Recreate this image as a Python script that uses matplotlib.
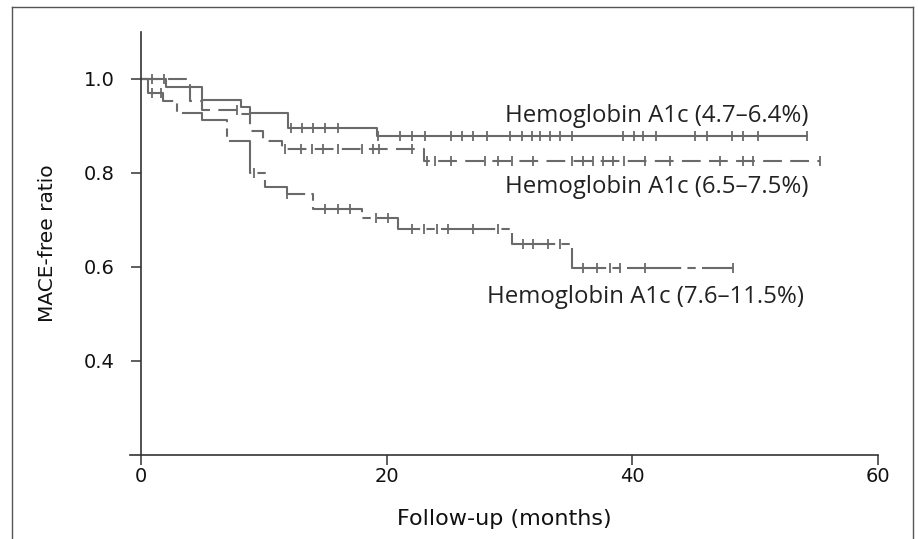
import numpy as np
import matplotlib
matplotlib.use("Agg")
import matplotlib.pyplot as plt
from matplotlib.lines import Line2D

# Kaplan-Meier style curves
# group A: Hemoglobin A1c 4.7-6.4 %
times_a = [0, 2.0, 5.0, 8.1, 8.9, 12.0, 19.2]
surv_a = [1.0, 0.983, 0.955, 0.940, 0.927, 0.895, 0.879]
end_a = 54.2
cens_a = [0.9, 1.9, 12.2, 13.1, 14.0, 15.0, 16.0, 19.3, 21.1, 22.1, 23.1, 25.2, 26.1,
          27.0, 28.2, 30.0, 31.0, 31.8, 32.5, 33.3, 34.1, 35.1, 39.2, 40.1, 40.9,
          41.9, 45.1, 46.1, 48.1, 49.0, 50.2, 54.2]

# group B: Hemoglobin A1c 6.5-7.5 %
times_b = [0, 4.0, 5.0, 8.1, 8.9, 9.9, 11.5, 23.0]
surv_b = [1.0, 0.953, 0.935, 0.925, 0.890, 0.868, 0.851, 0.826]
end_b = 55.3
cens_b = [7.8, 11.7, 13.0, 13.9, 14.8, 16.0, 18.0, 18.9, 19.4, 22.1, 23.3, 23.9, 25.2,
          28.0, 29.1, 30.2, 31.9, 35.1, 36.0, 36.8, 37.6, 38.4, 39.3, 41.0, 43.1,
          47.1, 49.0, 49.8, 55.3]

# group C: Hemoglobin A1c 7.6-11.5 %
times_c = [0, 0.6, 1.8, 2.9, 5.0, 7.0, 8.9, 10.1, 11.9, 14.0, 18.0, 20.9, 30.2, 35.1]
surv_c = [1.0, 0.970, 0.954, 0.927, 0.913, 0.868, 0.800, 0.770, 0.755, 0.723, 0.704,
          0.680, 0.650, 0.598]
end_c = 48.2
cens_c = [0.9, 1.6, 9.2, 11.9, 15.0, 16.0, 17.0, 19.1, 20.1, 22.1, 23.0, 24.1, 25.0,
          27.0, 29.1, 31.1, 31.9, 33.1, 34.1, 36.0, 37.1, 38.2, 39.0, 41.0, 48.2]

labels = ["Hemoglobin A1c (4.7\u20136.4%)",
          "Hemoglobin A1c (6.5\u20137.5%)",
          "Hemoglobin A1c (7.6\u201311.5%)"]

x_ticks = [0, 20, 40, 60]
y_ticks = [0.4, 0.6, 0.8, 1.0]

curve_col = "#6a6a6a"
axis_col = "#333333"


def surv_at(t, times, surv):
    # value of the step curve at time t
    i = np.searchsorted(times, t, side="right") - 1
    return surv[max(i, 0)]


def draw_curve(ax, times, surv, end, cens, ls):
    x = list(times) + [end]
    y = list(surv) + [surv[-1]]
    ax.step(x, y, where="post", color=curve_col, lw=1.5, linestyle=ls)
    cy = [surv_at(t, times, surv) for t in cens]
    ax.plot(cens, cy, linestyle="none", marker="|", ms=7.5, mew=1.3, color=curve_col)


fig = plt.figure(figsize=(9.18, 5.39), dpi=100)
ax = fig.add_axes([130 / 918, 84 / 539, 748 / 918, 423 / 539])

draw_curve(ax, times_a, surv_a, end_a, cens_a, "-")
draw_curve(ax, times_b, surv_b, end_b, cens_b, (0, (9, 4)))
draw_curve(ax, times_c, surv_c, end_c, cens_c, (0, (26, 3, 4, 3)))

txt_font = ["Open Sans", "DejaVu Sans"]
ax.text(29.6, 0.921, labels[0], fontsize=17.3, family=txt_font, va="center", color="#222222")
ax.text(29.6, 0.771, labels[1], fontsize=17.3, family=txt_font, va="center", color="#222222")
ax.text(28.2, 0.536, labels[2], fontsize=17.3, family=txt_font, va="center", color="#222222")

ax.set_xlim(-0.9, 60)
ax.set_ylim(0.2, 1.1)
ax.spines["left"].set_position(("data", 0))
ax.spines["top"].set_visible(False)
ax.spines["right"].set_visible(False)
for s in ["left", "bottom"]:
    ax.spines[s].set_color(axis_col)
    ax.spines[s].set_linewidth(1.2)

ax.set_xticks(x_ticks)
ax.set_yticks(y_ticks)
ax.set_yticklabels(["%.1f" % v for v in y_ticks])
ax.tick_params(axis="both", colors=axis_col, labelcolor="#111111", labelsize=14,
               length=7, width=1.1)
ax.tick_params(axis="y", pad=12)
ax.tick_params(axis="x", pad=2)

ax.set_xlabel("Follow-up (months)", fontsize=16, color="#111111", labelpad=16)
ax.set_ylabel("MACE-free ratio", fontsize=14.5, color="#111111")
ax.yaxis.set_label_coords(-0.098, 0.5)

# outer frame round the figure
for xs, ys in [([12, 12], [0, 532]), ([12, 913], [532, 532]), ([913, 913], [532, 0])]:
    fig.add_artist(Line2D([v / 918 for v in xs], [v / 539 for v in ys],
                          color="#555555", lw=1.0))

fig.savefig("out.png", dpi=100)
